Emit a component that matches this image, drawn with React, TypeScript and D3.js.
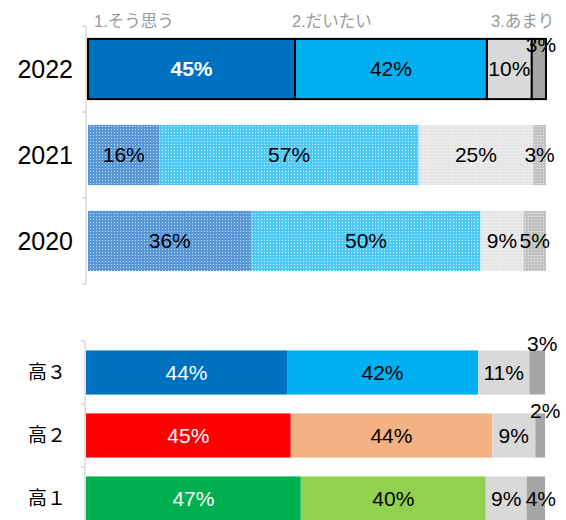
import React from "react";
import * as d3 from "d3";

const years = ["2022", "2021", "2020"];
const yearValues = [
  [45.2, 41.9, 9.8, 3.1],
  [15.6, 56.6, 25.0, 2.8],
  [35.7, 50.0, 9.4, 4.9],
];
const legendLabels = ["1.そう思う", "2.だいたい", "3.あまり"];
const grades = ["高３", "高２", "高１"];
const gradeValues = [
  [43.8, 41.6, 11.2, 3.4],
  [44.6, 43.9, 9.4, 2.1],
  [46.8, 40.3, 8.9, 4.0],
];
const gradeColors = [
  ["#0070C0", "#00B0F0", "#D9D9D9", "#A6A6A6"],
  ["#FF0000", "#F4B183", "#D9D9D9", "#A6A6A6"],
  ["#00B050", "#92D050", "#D9D9D9", "#A6A6A6"],
];
const yearColors = ["#0070C0", "#00B0F0", "#D9D9D9", "#A6A6A6"];
const patternBase = ["#5898d8", "#4ec8f4", "#e6e6e6", "#c2c2c2"];

const FONT = "'Liberation Sans', Arial, 'Noto Sans CJK JP', sans-serif";
const CJK = "'Noto Sans CJK JP', sans-serif";

function stack(vals: number[]) {
  let acc = 0;
  return vals.map((v) => {
    const s = acc;
    acc += v;
    return [s, acc];
  });
}

export default function App() {
  const xTop = d3.scaleLinear().domain([0, 100]).range([88, 546]);
  const yTop = d3.scaleBand().domain(years).range([26, 284]).paddingInner(0.3).paddingOuter(0.15);
  const xBot = d3.scaleLinear().domain([0, 100]).range([86, 545]);
  const yBot = d3.scaleBand().domain(grades).range([341, 530]).paddingInner(0.3).paddingOuter(0.15);

  const topTicks = [0, 1, 2, 3].map((i) => 26 + i * yTop.step());
  const botTicks = [0, 1, 2, 3].map((i) => 341 + i * yBot.step());

  const lbl = (v: number) => `${Math.round(v)}%`;

  return (
    <svg
      width={566}
      height={540}
      style={{ position: "absolute", left: 0, top: 0, fontFamily: FONT }}
    >
      <defs>
        <pattern id="dots" x={0} y={0} width={3} height={3} patternUnits="userSpaceOnUse">
          <rect x={0} y={0} width={1} height={1} fill="#ffffff" fillOpacity={0.7} />
        </pattern>
      </defs>
      <rect width={566} height={540} fill="#fff" />

      {/* top axis */}
      <line x1={86} x2={86} y1={26} y2={284} stroke="#d9d9d9" strokeWidth={1.5} />
      {topTicks.map((t, i) => (
        <line key={i} x1={82} x2={86} y1={t} y2={t} stroke="#d9d9d9" strokeWidth={1.5} />
      ))}
      {/* bottom axis */}
      <line x1={85} x2={85} y1={341} y2={530} stroke="#d9d9d9" strokeWidth={1.5} />
      {botTicks.map((t, i) => (
        <line key={i} x1={81} x2={85} y1={t} y2={t} stroke="#d9d9d9" strokeWidth={1.5} />
      ))}

      {/* legend labels */}
      {legendLabels.map((l, i) => {
        const st = stack(yearValues[0])[i][0];
        return (
          <text key={l} x={xTop(st) + (i === 1 ? -3 : i === 0 ? 6 : 4)} y={21} dy="0.35em" fontSize={16.5} fill="#999999">
            {l}
          </text>
        );
      })}

      {years.map((yr, r) => {
        const y0 = yTop(yr)!;
        const bw = yTop.bandwidth();
        const segs = stack(yearValues[r]);
        return (
          <g key={yr}>
            <text x={73} y={y0 + bw / 2} dy="0.35em" textAnchor="end" fontSize={25} fill="#000">
              {yr}
            </text>
            {segs.map(([a, b], i) => (
              <g key={i}>
                <rect
                  x={xTop(a)}
                  y={y0}
                  width={xTop(b) - xTop(a)}
                  height={bw}
                  fill={r === 0 ? yearColors[i] : patternBase[i]}
                  stroke={r === 0 ? "#000" : "none"}
                  strokeWidth={r === 0 ? 2 : 0}
                />
                {r > 0 && (
                  <rect
                    x={xTop(a)}
                    y={y0}
                    width={xTop(b) - xTop(a)}
                    height={bw}
                    fill="url(#dots)"
                  />
                )}
              </g>
            ))}
            {segs.map(([a, b], i) => {
              const v = yearValues[r][i];
              const small = r === 0 && i === 3;
              return (
                <text
                  key={"t" + i}
                  x={(xTop(a) + xTop(b)) / 2 + (small ? 2 : 0)}
                  y={y0 + bw / 2 + (small ? -24 : 0)}
                  dy="0.35em"
                  textAnchor="middle"
                  fontSize={21}
                  fontWeight={r === 0 && i === 0 ? 700 : 400}
                  fill={r === 0 && i === 0 ? "#fff" : "#000"}
                >
                  {lbl(v)}
                </text>
              );
            })}
          </g>
        );
      })}

      {grades.map((g, r) => {
        const y0 = yBot(g)!;
        const bw = yBot.bandwidth();
        const segs = stack(gradeValues[r]);
        return (
          <g key={g}>
            <text x={66} y={y0 + bw / 2} dy="0.35em" textAnchor="end" fontSize={19} fill="#000" fontFamily={CJK}>
              {g}
            </text>
            {segs.map(([a, b], i) => (
              <rect
                key={i}
                x={xBot(a)}
                y={y0}
                width={xBot(b) - xBot(a)}
                height={bw}
                fill={gradeColors[r][i]}
              />
            ))}
            {segs.map(([a, b], i) => {
              const v = gradeValues[r][i];
              const lifted = i === 3 && r < 2;
              return (
                <text
                  key={"t" + i}
                  x={(xBot(a) + xBot(b)) / 2 + (i === 3 ? 5 : 0)}
                  y={y0 + bw / 2 + (lifted ? (r === 0 ? -29 : -25) : 0)}
                  dy="0.35em"
                  textAnchor="middle"
                  fontSize={21}
                  fill={i === 0 ? "#fff" : "#000"}
                >
                  {lbl(v)}
                </text>
              );
            })}
          </g>
        );
      })}
    </svg>
  );
}
